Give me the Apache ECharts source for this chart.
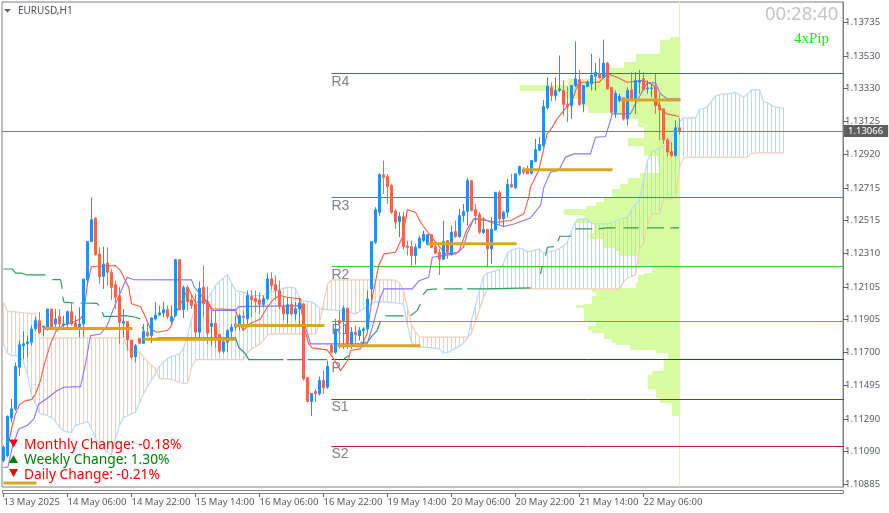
<!DOCTYPE html>
<html>
<head>
<meta charset="utf-8">
<title>EURUSD,H1</title>
<script src="https://cdn.jsdelivr.net/npm/echarts@6/dist/echarts.min.js"></script>
<style>
html,body{margin:0;padding:0;background:#fff}
#main{width:889px;height:513px}
</style>
</head>
<body>
<div id="main"></div>
<script type="text/javascript">
// all prices are in points (1.13066 = 113066)
var timeTicks = [0,16,32,48,64,80,96,112,128,144,160];
var timeLabels = ['13 May 2025','14 May 06:00','14 May 22:00','15 May 14:00','16 May 06:00','16 May 22:00','19 May 14:00','20 May 06:00','20 May 22:00','21 May 14:00','22 May 06:00'];
var priceTicks = [113735,113530,113330,113125,112920,112715,112515,112310,112105,111905,111700,111495,111290,111090,110885];
var lastPrice = 113066;

var opens = [
111033,111064,111296,111352,111609,111742,111753,111763,111845,111896,
111855,111845,111968,111876,111921,111870,111876,111952,111882,111859,
111876,112147,112384,112528,112308,112170,112252,112195,112119,112051,
111880,111890,111777,111674,111788,111757,111825,111804,111907,111931,
111944,111964,111893,111928,112273,111965,112102,112024,112000,111825,
112102,112014,111860,111880,111811,111708,111763,111831,111856,111872,
111924,111907,112045,112033,112024,111996,112031,112154,112119,112082,
111987,111938,111996,111938,111969,112000,111545,111397,111459,111445,
111527,111486,111743,111701,111897,111897,111973,111749,111825,111804,
111835,111845,112092,112380,112565,112797,112785,112729,112571,112507,
112538,112357,112353,112298,112345,112390,112366,112427,112353,112318,
112275,112390,112308,112446,112415,112544,112571,112760,112581,112551,
112440,112460,112339,112456,112688,112524,112565,112736,112716,112802,
112829,112827,112806,112878,112946,112977,113209,113336,113285,113316,
113316,113230,113223,113347,113382,113234,113341,113357,113404,113419,
113398,113485,113336,113178,113254,113271,113141,113320,113265,113367,
113388,113326,113328,113336,113223,113203,113012,112940,112915,113086];
var closes = [
111115,111306,111352,111613,111748,111753,111765,111845,111896,111825,
111862,111968,111855,111907,111876,111876,111952,111876,111855,111876,
112153,112384,112519,112304,112168,112246,112195,112102,112040,111886,
111890,111777,111670,111742,111757,111831,111804,111913,111931,111944,
111964,111921,111922,112273,111965,112102,112014,111989,111825,112096,
112000,111819,111880,111784,111708,111767,111835,111856,111876,111926,
111917,112051,112026,112014,111996,112033,112154,112113,112082,111983,
111938,111996,111938,111969,112004,111537,111397,111447,111445,111527,
111482,111613,111701,111845,111880,111973,111753,111825,111808,111835,
111845,112030,112384,112581,112797,112781,112723,112565,112503,112538,
112353,112349,112298,112349,112405,112427,112427,112349,112312,112275,
112384,112318,112442,112415,112544,112569,112760,112575,112544,112442,
112458,112339,112460,112688,112524,112565,112736,112720,112802,112847,
112812,112802,112884,112952,112983,113217,113343,113285,113316,113326,
113230,113217,113347,113388,113230,113347,113367,113408,113429,113394,
113485,113326,113182,113299,113279,113141,113316,113265,113378,113378,
113320,113332,113332,113223,113197,113012,112936,112915,113086,113066];
var lows = [
111023,111054,111269,111341,111557,111660,111670,111742,111835,111814,
111798,111835,111845,111835,111845,111845,111845,111866,111845,111794,
111794,112112,112380,112297,112123,112092,112112,112024,111968,111753,
111794,111711,111660,111639,111753,111753,111794,111757,111896,111927,
111917,111907,111876,111922,111959,111913,111959,111969,111794,111790,
111917,111753,111743,111728,111695,111695,111702,111790,111835,111835,
111835,111876,111917,111948,111938,111979,112024,112082,112024,111969,
111897,111876,111928,111897,111876,111527,111393,111307,111393,111434,
111445,111475,111691,111691,111722,111722,111722,111722,111753,111773,
111753,111835,112020,112370,112544,112678,112616,112555,112462,112411,
112333,112298,112236,112242,112339,112380,112359,112345,112308,112178,
112271,112277,112298,112407,112407,112503,112483,112571,112493,112431,
112431,112230,112246,112452,112483,112472,112534,112716,112709,112792,
112798,112802,112798,112874,112942,112966,113197,113250,113254,113306,
113162,113121,113141,113336,113221,113182,113336,113316,113316,113388,
113392,113320,113172,113147,113244,113131,113100,113254,113172,113295,
113316,113295,113275,113172,113008,112987,112909,112905,112909,113045];
var highs = [
111126,111311,111413,111639,111773,111831,111804,111866,111917,111948,
111866,111968,111968,111968,111968,111927,111958,112010,111927,111979,
112153,112384,112657,112534,112349,112353,112349,112215,112143,112102,
111968,111890,111777,111753,111788,111876,111876,111917,112010,111989,
112014,111989,111989,112273,112273,112113,112113,112061,112061,112137,
112236,112107,111959,111959,111811,111790,111845,111876,111928,111938,
111959,112082,112086,112082,112072,112051,112189,112195,112174,112144,
112041,112041,112031,112010,112031,112000,111545,111447,111475,111551,
111588,111650,111753,111907,111958,111989,111973,111856,111866,111856,
111856,112082,112384,112596,112806,112884,112801,112740,112586,112565,
112565,112390,112390,112370,112421,112452,112431,112431,112380,112339,
112514,112390,112483,112514,112586,112616,112777,112760,112616,112565,
112534,112460,112534,112688,112699,112575,112771,112802,112802,112853,
112843,112853,112884,113018,113028,113258,113398,113367,113398,113532,
113378,113341,113347,113618,113443,113347,113378,113542,113485,113515,
113630,113491,113336,113316,113295,113275,113336,113429,113429,113443,
113429,113378,113357,113419,113295,113203,113024,112997,113131,113147];

// fast line, [bar, price] at each bend
var tenkan = [[1.1,111115],[2,111228],[3,111321],[4,111378],[5.5,111403],[7,111409],[8,111444],[9.25,111526],[10,111609],[11.75,111753],[13,111825],[14.7,111866],[16,111876],[19.25,111907],[20,111938],[21,112123],[22,112230],[28,112236],[29.25,112205],[31.3,112102],[32,112000],[34.25,111983],[35.5,111917],[36.75,111845],[38.4,111825],[40.9,111835],[41.75,111855],[43.4,111959],[45.5,112061],[46.3,112092],[48,112010],[50.9,112020],[52.2,111969],[58,111965],[58.8,111897],[59.9,111835],[61.75,111880],[64.25,111907],[65.9,111979],[67.6,112031],[69.25,112051],[70.9,112041],[74.25,112031],[75.1,111856],[76.3,111753],[77.2,111728],[80.9,111716],[82.6,111660],[84.25,111588],[86.3,111660],[86.75,111712],[89.25,111722],[90.1,111773],[90.9,111815],[92.2,112041],[93.8,112236],[95.1,112308],[98,112318],[99.7,112411],[101,112581],[103,112565],[104.25,112503],[106.75,112421],[108.4,112370],[110.5,112308],[113.8,112318],[115.9,112462],[117.6,112524],[120.5,112514],[123.4,112503],[126.75,112514],[130.1,112555],[131.3,112657],[131.75,112720],[133.8,112822],[135.9,113049],[137.2,113090],[138.4,113141],[140.1,113193],[142.2,113254],[143,113316],[143.9,113367],[148.9,113367],[151,113419],[153.4,113398],[155.9,113367],[160.1,113378],[162.6,113347],[163.8,113213],[165.9,113172],[168.9,113156]];
// slow line
var kijun = [[0,110992],[1.1,110992],[2.2,111115],[3.8,111228],[5.9,111249],[7.6,111290],[8.8,111382],[11.3,111424],[13.4,111465],[15.1,111485],[19.25,111489],[20.5,111629],[21.75,111804],[24.25,111814],[25.9,111866],[28,112000],[30.9,112164],[32.6,112149],[47,112148],[47.75,112102],[50.9,112010],[52.2,111959],[58,111959],[58.8,111983],[74.25,111989],[75.1,111887],[76.75,111753],[90.9,111753],[92.2,111856],[94.25,112041],[95.1,112092],[102.2,112092],[103.9,112143],[106.3,112164],[107.2,112287],[113,112308],[115,112349],[115.9,112431],[117.6,112524],[120.1,112524],[121.75,112503],[125.1,112477],[127.6,112493],[131.75,112530],[134.25,112607],[135.1,112720],[136.75,112812],[138.8,112822],[140.5,112905],[142.6,112925],[146.75,112925],[148,113028],[150.5,113032],[152.2,113172],[156.75,113172],[158,113234],[160.9,113363],[163,113363],[164.25,113295],[165.9,113265],[169.25,113265]];

// cloud edges, one value per bar (runs 26 bars past the last candle)
var spanA = [
111753,111695,111681,111681,111675,111640,111560,111435,111382,111325,
111318,111310,111298,111275,111240,111218,111208,111208,111249,111258,
111265,111275,111230,111170,111130,111105,111085,111065,111170,111250,
111298,111310,111322,111331,111390,111444,111490,111530,111570,111615,
111640,111662,111675,111682,111690,111725,111800,111905,111980,112000,
112012,112030,112070,112113,112138,112160,112181,112130,112082,112077,
112072,112060,112051,112051,112051,112051,112070,112076,112080,112088,
112095,112102,112102,112095,112035,112018,112015,112011,111998,111972,
111966,111964,111962,111960,111959,111959,111952,111945,111938,111952,
111968,111985,111998,112012,112014,112012,112010,112008,112005,112002,
112000,111865,111765,111738,111735,111733,111731,111728,111725,111722,
111695,111700,111712,111725,111738,111760,111785,111900,111990,112080,
112170,112190,112197,112205,112212,112250,112315,112332,112340,112345,
112335,112322,112325,112333,112338,112312,112319,112325,112329,112342,
112358,112385,112450,112505,112524,112524,112524,112495,112493,112493,
112493,112493,112500,112510,112520,112528,112533,112582,112612,112642,
112760,112885,112935,112948,112962,112972,112985,113030,113069,113125,
113147,113147,113147,113147,113200,113205,113215,113250,113281,113290,
113295,113295,113300,113305,113290,113275,113295,113320,113320,113320,
113245,113240,113225,113213,113210,113209];
var spanB = [
112010,111954,111952,111950,111948,111945,111943,111940,111938,111790,
111790,111790,111790,111790,111790,111790,111790,111790,111790,111790,
111790,111790,111790,111790,111790,111790,111790,111790,111790,111790,
111790,111725,111708,111705,111702,111670,111645,111622,111600,111540,
111537,111537,111535,111525,111516,111508,111510,111605,111656,111656,
111656,111656,111656,111656,111656,111656,111656,111656,111656,111656,
111656,111700,111722,111735,111750,111775,111808,111815,111815,111815,
111815,111815,111815,111815,111815,111815,111815,111815,111815,111880,
112000,112120,112148,112148,112148,112148,112148,112148,112148,112148,
112148,112148,112148,112148,112148,112148,112148,112148,112145,112130,
112082,111975,111870,111825,111794,111794,111794,111794,111794,111794,
111794,111794,111794,111794,111794,111794,111794,111820,111890,111965,
112040,112092,112092,112092,112092,112092,112092,112092,112092,112092,
112092,112092,112092,112092,112092,112092,112092,112092,112092,112092,
112092,112092,112092,112092,112092,112092,112092,112092,112092,112092,
112092,112092,112092,112092,112092,112135,112160,112168,112180,112340,
112368,112480,112550,112555,112555,112640,112647,112647,112665,112840,
112900,112905,112905,112905,112905,112905,112905,112905,112905,112905,
112905,112905,112905,112905,112905,112905,112905,112928,112931,112931,
112931,112931,112931,112931,112931,112931];

// lagging line, broken where the picture shows gaps
var chikouParts = [
[[0,112215],[2.2,112215],[3,112190],[4.4,112190],[5.9,112178],[10.5,112178]],
[[12.2,112149],[14.25,112149],[14.7,112092]],
[[14.8,112044],[15.1,112010],[17.6,112005]],
[[19.25,112005],[23.4,112003],[23.8,111989]],
[[24.7,111948],[25.1,111923],[28.4,111923],[30.5,111927],[33,111917],[34.25,111907]],
[[34.7,111855],[35.1,111835]],
[[38.4,111790],[41.75,111790],[58,111790],[58.8,111732],[60.5,111691],[61.3,111656],[70,111656]],
[[70.9,111656],[74.7,111656]],
[[76,111656],[80.9,111656]],
[[85.1,111660],[86.3,111681]],
[[89.25,111763],[91,111763],[92.2,111804],[93.4,111835],[94.25,111893]],
[[95.5,111926],[100,111926]],
[[101.75,111926],[103.4,111958],[104.25,111999]],
[[104.9,112057],[105.9,112088],[108.4,112092]],
[[110.1,112092],[114.7,112092]],
[[115.9,112092],[120.9,112092],[131.75,112098]],
[[134.25,112185],[134.7,112236]],
[[135.5,112298],[136,112349],[137.6,112353]],
[[138.6,112386],[139.1,112417],[141.9,112417]],
[[143,112462],[147.2,112462]],
[[148.8,112462],[150.9,112468],[153,112468]],
[[155,112468],[158.8,112468]],
[[160.9,112468],[165.1,112468]],
[[166.75,112468],[168.9,112468]]
];

var pivotNames = ['R4','R3','R2','R1','P','S1','S2'];
var pivotPrices = [113419,112654,112228,111889,111654,111411,111120];
var pivotColors = ['#3a7d5a','#3f8f68','#32cd32','#32cd32','#006400','#ff0000','#c8143c'];

// session average levels: [first bar, last bar, price]
var goldLevels = [[0,8.25,110894],[10,32.25,111848],[35,58,111782],[57.75,80.25,111866],[83.5,104.25,111741],[106,128.25,112370],[129.75,152.25,112827],[154.25,169.25,113258]];

// volume profile: price edges of each row and the row length in bars
var profileEdges = [113649,113630,113544,113489,113452,113421,113384,113347,113316,113266,113223,113180,113143,113088,113026,112976,112915,112853,112810,112779,112742,112711,112662,112631,112606,112582,112545,112526,112501,112434,112403,112347,112323,112298,112236,112193,112175,112131,112100,112094,112070,112051,112033,112002,111990,111977,111959,111897,111866,111841,111817,111786,111761,111749,111718,111699,111662,111588,111558,111508,111477,111422,111391,111311];
var profileVolume = [2.4,5.1,11.1,14.1,17.4,19.9,28.1,39.9,29.1,24.4,23.1,14.1,10.6,9.1,13.1,9.1,5.6,4.9,9.9,13.1,15.1,17.1,19.1,21.1,23.6,29.1,24.1,26.1,21.6,22.4,19.1,16.1,14.9,10.6,6.9,9.1,10.4,11.1,14.9,21.9,21.1,21.9,21.9,24.1,26.1,24.1,24.1,21.1,23.1,21.9,19.1,16.9,16.1,12.4,6.1,3.1,4.1,7.1,8.1,8.1,6.1,5.1,2.1];

var changeNames = ['Monthly Change: -0.18%','Weekly Change: 1.30%','Daily Change: -0.21%'];
var changeUp = [false,true,false];

var lastBar = 169;
var priceTop = 113862, priceBottom = 110870;
var myChart = echarts.init(document.getElementById('main'), null, {renderer:'canvas'});

var candles = opens.map(function (o, i) { return [i, o, closes[i], lows[i], highs[i]]; });
var hatchData = spanA.map(function (a, i) { return [i, a, spanB[i]]; });
var spanAData = spanA.map(function (a, i) { return [i, a]; });
var spanBData = spanB.map(function (b, i) { return [i, b]; });
var profileData = profileVolume.map(function (v, i) { return [lastBar + 0.125 - v, profileEdges[i], lastBar + 0.125, profileEdges[i + 1]]; });

function joinParts(parts) {
    var out = [];
    parts.forEach(function (p) {
        out = out.concat(p);
        out.push([p[p.length - 1][0], null]);
    });
    return out;
}
function plainLine(name, data, color, width, z) {
    return {
        name: name, type: 'line', data: data, symbol: 'none', silent: true, z: z,
        lineStyle: {color: color, width: width}, connectNulls: false, animation: false
    };
}

var series = [];
// profile
series.push({
    type: 'custom', data: profileData, z: 1, silent: true, animation: false, clip: true,
    renderItem: function (params, api) {
        var a = api.coord([api.value(0), api.value(1)]);
        var b = api.coord([api.value(2), api.value(3)]);
        return {type: 'rect', shape: {x: Math.round(a[0]), y: Math.round(a[1]), width: Math.round(b[0]) - Math.round(a[0]), height: Math.round(b[1]) - Math.round(a[1])}, style: {fill: '#d7fda0'}};
    }
});
series.push(plainLine('now', [[lastBar, priceBottom], [lastBar, priceTop]], '#dcf7b0', 1, 1));
// cloud hatching
series.push({
    type: 'custom', data: hatchData, z: 2, silent: true, animation: false, clip: true,
    renderItem: function (params, api) {
        var a = api.coord([api.value(0), api.value(1)]);
        var b = api.coord([api.value(0), api.value(2)]);
        var x = Math.floor(a[0]) + 0.5;
        return {type: 'line', shape: {x1: x, y1: a[1], x2: x, y2: b[1]}, style: {stroke: api.value(1) > api.value(2) ? '#b8daf8' : '#f6cbb8', lineWidth: 1}};
    }
});
series.push(plainLine('spanA', spanAData, '#b8daf8', 1.2, 2));
series.push(plainLine('spanB', spanBData, '#f6cbb8', 1.2, 2));
series.push(plainLine('chikou', joinParts(chikouParts), '#2e9e62', 1.2, 3));
// pivot levels, lines snapped to whole pixels, name hangs under the line
series.push({
    type: 'custom', data: pivotPrices.map(function (p, i) { return [82, p, 210, i]; }), z: 3, silent: true, animation: false,
    renderItem: function (params, api) {
        var c = api.coord([api.value(0), api.value(1)]);
        var e = api.coord([api.value(2), api.value(1)]);
        var y = Math.floor(c[1]) + 0.5;
        var i = api.value(3);
        return {type: 'group', children: [
            {type: 'line', shape: {x1: c[0], y1: y, x2: e[0], y2: y}, style: {stroke: pivotColors[i], lineWidth: 1}},
            {type: 'text', x: c[0], y: c[1] + 1, style: {text: pivotNames[i], fill: '#80808f', font: '14px "Liberation Sans"', textAlign: 'left', textVerticalAlign: 'top'}}
        ]};
    }
});
series.push(plainLine('tenkan', tenkan, '#ff5a3c', 1.1, 4));
series.push(plainLine('kijun', kijun, '#8874ff', 1.1, 4));
// candles, current price line hangs off this series
series.push({
    type: 'candlestick', data: candles, z: 5, barWidth: 2, silent: true, animation: false,
    encode: {x: 0, y: [1, 2, 3, 4]},
    itemStyle: {color: '#1e90ff', color0: '#ff6347', borderColor: '#1e90ff', borderColor0: '#ff6347', borderWidth: 1},
    markLine: {
        symbol: 'none', silent: true, animation: false,
        lineStyle: {color: '#808080', width: 1, type: 'solid'},
        data: [{yAxis: lastPrice}],
        label: {
            position: 'end', distance: 1, color: '#fff', backgroundColor: '#5f5f5f', padding: [1, 5, 1, 4],
            fontFamily: 'Noto Sans', fontSize: 9.5,
            formatter: function () { return (lastPrice / 1e5).toFixed(5); }
        }
    }
});
series.push(plainLine('gold', joinParts(goldLevels.map(function (g) { return [[g[0], g[2]], [g[1], g[2]]]; })), '#daa520', 3, 6));

var overlay = [
    {type: 'rect', shape: {x: 2.5, y: 490.5, width: 841, height: 3}, style: {fill: 'none', stroke: '#808080', lineWidth: 1}},
    {type: 'polygon', shape: {points: [[4, 9], [11, 9], [7.5, 12.5]]}, style: {fill: '#606060'}},
    {type: 'text', x: 18, y: 6, style: {text: 'EURUSD,H1', fill: '#505060', font: '10px "Noto Sans"'}},
    {type: 'text', x: 765, y: 5, style: {text: '00:28:40', fill: '#c4c4c4', font: '18.5px "Noto Sans"'}},
    {type: 'text', x: 794, y: 32, style: {text: '4xPip', fill: '#00ff00', font: '15px "Liberation Serif"'}}
];
changeNames.forEach(function (t, i) {
    var y = [443.5, 459, 473][i];
    var c = changeUp[i] ? '#008000' : '#ff0000';
    overlay.push({type: 'polygon', shape: {points: changeUp[i] ? [[9, y + 4], [18, y + 4], [13.5, y - 4]] : [[9, y - 4], [18, y - 4], [13.5, y + 4]]}, style: {fill: c}});
    overlay.push({type: 'text', x: 24, y: [438.5, 453.5, 468][i], style: {text: t, fill: c, font: '13.8px "Noto Sans"'}});
});
overlay.forEach(function (g) { g.z = 50; g.silent = true; });

var option = {
    animation: false,
    backgroundColor: '#fff',
    grid: {left: 2, right: 46, top: 2, height: 485, show: true, borderColor: '#808080', borderWidth: 1, backgroundColor: 'transparent'},
    xAxis: {
        type: 'value', min: -0.375, max: 209.875, position: 'bottom', offset: 6, splitLine: {show: false},
        axisLine: {show: false, onZero: false},
        axisTick: {show: true, customValues: timeTicks, length: 4, lineStyle: {color: '#606060'}},
        axisLabel: {
            customValues: timeTicks, align: 'left', margin: 4, color: '#555b66', fontFamily: 'Noto Sans', fontSize: 9.5, hideOverlap: false,
            formatter: function (v) { return timeLabels[timeTicks.indexOf(v)] || ''; }
        }
    },
    yAxis: {
        type: 'value', min: priceBottom, max: priceTop, position: 'right', splitLine: {show: false}, scale: true,
        axisLine: {show: true, onZero: false, lineStyle: {color: '#808080'}},
        axisTick: {show: true, customValues: priceTicks, length: 5, lineStyle: {color: '#606060'}},
        axisLabel: {
            customValues: priceTicks, margin: 2, color: '#555b66', fontFamily: 'Noto Sans', fontSize: 9.5, hideOverlap: false,
            formatter: function (v) { return (v / 1e5).toFixed(5); }
        }
    },
    series: series,
    graphic: {elements: overlay}
};
myChart.setOption(option);
</script>
</body>
</html>
